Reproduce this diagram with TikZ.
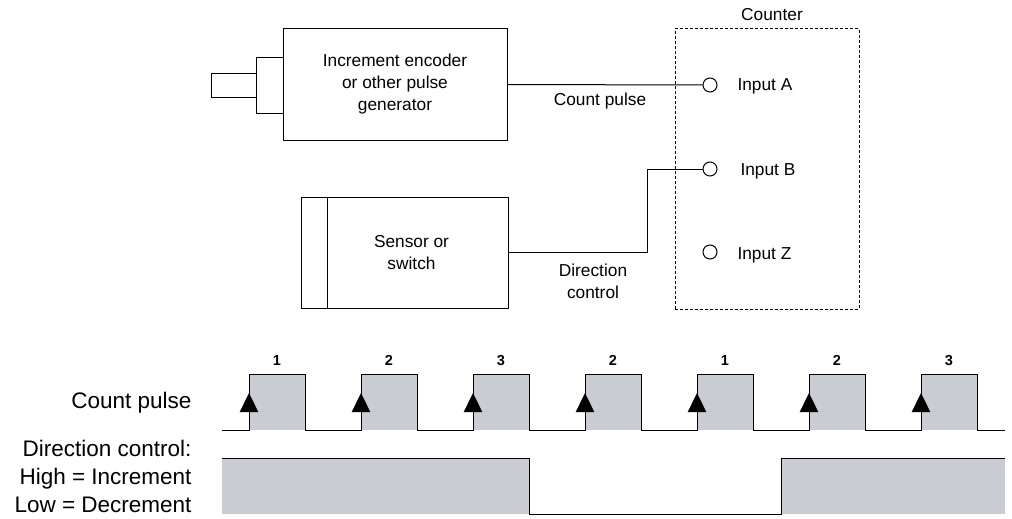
\documentclass[tikz,border=0pt]{standalone}
\usepackage{fontspec}
\setmainfont{Liberation Sans}
\definecolor{sigfill}{RGB}{201,204,211}
\begin{document}
\begin{tikzpicture}[x=1pt,y=-1pt,line width=1pt,
  box/.style={draw,inner sep=0pt},
  lbl/.style={font=\fontsize{17.3}{22}\selectfont,inner sep=0pt},
  big/.style={font=\fontsize{22.5}{28}\selectfont,inner sep=0pt},
  num/.style={font=\fontsize{14.5}{16}\selectfont\bfseries,inner sep=0pt},
  port/.style={circle,draw,minimum size=14pt,inner sep=0pt},
  dashbox/.style={draw,dash pattern=on 3pt off 2pt,inner sep=0pt},
  hilevel/.style={fill=sigfill},
  edgemark/.style={fill=black}]
\useasboundingbox (0,0) rectangle (1012,519);

% encoder
\node[box,lbl,align=center,minimum width=224pt,minimum height=111pt] (enc) at (395,84.5) {Increment encoder\\or other pulse\\generator};
\node[box,minimum width=27pt,minimum height=55pt] (flange) at (269.5,85.5) {};
\node[box,minimum width=45pt,minimum height=23pt] (shaft) at (233.5,85.5) {};

% sensor
\node[box,minimum width=207pt,minimum height=111pt] (sensor) at (404.5,252.5) {};
\draw ([xshift=27pt]sensor.north west) -- ([xshift=27pt]sensor.south west);
\node[lbl,align=center] (sensortxt) at (411.5,252.5) {Sensor or\\switch};

% counter
\node[dashbox,minimum width=184pt,minimum height=280pt] (counter) at (767,169) {};
\node[lbl,anchor=base] (countertxt) at (772,21) {Counter};
\node[port] (pA) at (710,85) {};
\node[port] (pB) at (710,169) {};
\node[port] (pZ) at (710,252) {};
\node[lbl,anchor=base west] (tA) at (737,91) {Input A};
\node[lbl,anchor=base west] (tB) at (740,175) {Input B};
\node[lbl,anchor=base west] (tZ) at (737,259) {Input Z};

% wires
\draw (enc.east) -- (pA.west);
\coordinate (bend) at (647,252);
\draw (sensor.east) -- (sensor.east -| bend) |- (pB.west);
\node[lbl,anchor=base] (cplbl) at (600,106) {Count pulse};
\node[lbl,align=center,anchor=base] (dclbl) at (593,298) {Direction\\control};

% left labels
\node[big,anchor=base east] (cp) at (192,408) {Count pulse};
\node[big,align=right,anchor=base east] (dc) at (192,512) {Direction control:\\High = Increment\\Low = Decrement};

% count pulse signal
\foreach \r/\n in {249/1,361/2,473/3,585/2,697/1,809/2,921/3} {
  \fill[hilevel] (\r,374) rectangle ({\r+56},430);
  \node[num,anchor=base] (n\r) at ({\r+28},365) {\n};
}
\draw (222,430) \foreach \r in {249,361,473,585,697,809,921} { -- (\r,430) -- (\r,374) -- ({\r+56},374) -- ({\r+56},430) } -- (1005,430);
\foreach \r in {249,361,473,585,697,809,921} {
  \fill[edgemark] (\r,393) -- ({\r-9.3},412) -- ({\r+9.3},412) -- cycle;
}

% direction signal
\fill[hilevel] (222,458) rectangle (529,514);
\fill[hilevel] (781,458) rectangle (1005,514);
\draw (222,458) -- (529,458) -- (529,514) -- (781,514) -- (781,458) -- (1005,458);
\end{tikzpicture}
\end{document}
